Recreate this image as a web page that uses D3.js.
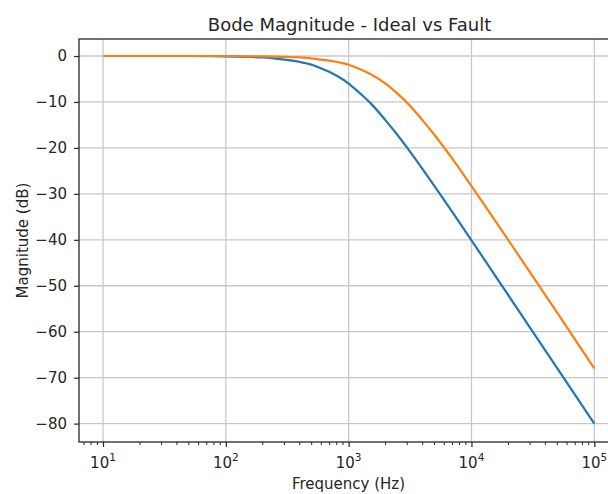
<!DOCTYPE html>
<html>
<head>
<meta charset="utf-8">
<script src="https://cdn.jsdelivr.net/npm/d3@7"></script>
<style>
  html, body { margin: 0; padding: 0; background: #fff; overflow: hidden; }
  text { font-family: "DejaVu Sans", sans-serif; fill: #262626; }
</style>
</head>
<body>
<div id="chart"></div>
<script>
'use strict';

// values
var freqs = [10, 20, 50, 100, 150, 200, 300, 400, 500, 600, 700, 800, 1000, 1200, 1500,
  2000, 2500, 3000, 4000, 5000, 7000, 10000, 20000, 50000, 100000];
var idealDb = [0, 0, 0, -0.1, -0.2, -0.3, -0.8, -1.3, -1.9, -2.7, -3.5, -4.3, -6.0, -7.8, -10.2,
  -14.0, -17.2, -20.0, -24.6, -28.3, -34.0, -40.1, -52.1, -68.0, -80.0];
var faultDb = [0, 0, 0, 0, -0.1, -0.1, -0.2, -0.3, -0.5, -0.8, -1.0, -1.3, -1.9, -2.7, -3.9,
  -6.0, -8.2, -10.2, -14.0, -17.2, -22.4, -28.3, -40.1, -55.9, -68.0];
var yTicks = [0, -10, -20, -30, -40, -50, -60, -70, -80];
var xTicks = [1e1, 1e2, 1e3, 1e4, 1e5];

var width = 608, height = 494;
var plot = { left: 79, right: 618.3, top: 39, bottom: 442 };

var svg = d3.select('#chart').append('svg')
  .attr('width', width)
  .attr('height', height);

var x = d3.scaleLog()
  .domain([Math.pow(10, 0.8045), Math.pow(10, 5.1955)])
  .range([plot.left, plot.right]);

var y = d3.scaleLinear()
  .domain([-84, 3.7])
  .range([plot.bottom, plot.top]);

// grid
svg.append('g').selectAll('line')
  .data(xTicks).enter().append('line')
  .attr('x1', function(d) { return x(d); })
  .attr('x2', function(d) { return x(d); })
  .attr('y1', plot.top).attr('y2', plot.bottom)
  .attr('style', 'stroke: #c8c8c8; stroke-width: 1.3;');

svg.append('g').selectAll('line')
  .data(yTicks).enter().append('line')
  .attr('x1', plot.left).attr('x2', plot.right)
  .attr('y1', function(d) { return y(d); })
  .attr('y2', function(d) { return y(d); })
  .attr('style', 'stroke: #c8c8c8; stroke-width: 1.3;');

// lines
var line = d3.line()
  .x(function(d) { return x(d[0]); })
  .y(function(d) { return y(d[1]); })
  .curve(d3.curveMonotoneX);

svg.append('path')
  .datum(d3.zip(freqs, idealDb))
  .attr('d', line)
  .attr('style', 'stroke: #1f77b4; stroke-width: 2.2; fill: none;');

svg.append('path')
  .datum(d3.zip(freqs, faultDb))
  .attr('d', line)
  .attr('style', 'stroke: #ff7f0e; stroke-width: 2.2; fill: none;');

// axes
var minorTicks = [];
[1, 10, 100, 1000, 10000, 100000].forEach(function(dec) {
  for (var k = 2; k <= 9; k++) {
    var v = dec * k;
    if (v > x.domain()[0] && v < x.domain()[1]) minorTicks.push(v);
  }
});

var xAxis = d3.axisBottom(x)
  .tickValues(xTicks)
  .tickSize(5)
  .tickFormat(function() { return ''; });

var gx = svg.append('g')
  .attr('transform', 'translate(0,' + plot.bottom + ')')
  .call(xAxis);
gx.select('.domain').remove();
gx.selectAll('.tick line').attr('stroke', '#262626').attr('stroke-width', 1.2);

svg.append('g').selectAll('line')
  .data(minorTicks).enter().append('line')
  .attr('x1', function(d) { return x(d); })
  .attr('x2', function(d) { return x(d); })
  .attr('y1', plot.bottom).attr('y2', plot.bottom + 3)
  .attr('stroke', '#262626').attr('stroke-width', 1);

var xLabels = svg.append('g').selectAll('text')
  .data(xTicks).enter().append('text')
  .attr('x', function(d) { return x(d); })
  .attr('y', 468)
  .attr('text-anchor', 'middle')
  .style('font-size', '15px');
xLabels.append('tspan').text('10');
xLabels.append('tspan')
  .attr('dy', -7)
  .style('font-size', '10.5px')
  .text(function(d) { return Math.round(Math.log10(d)); });

var yAxis = d3.axisLeft(y)
  .tickValues(yTicks)
  .tickSize(5)
  .tickPadding(7)
  .tickFormat(function(d) { return d < 0 ? '\u2212' + Math.abs(d) : d; });

var gy = svg.append('g')
  .attr('transform', 'translate(' + plot.left + ',0)')
  .call(yAxis);
gy.select('.domain').remove();
gy.selectAll('.tick line').attr('stroke', '#262626').attr('stroke-width', 1.2);
gy.selectAll('.tick text')
  .style('font-size', '15px')
  .style('font-family', '"DejaVu Sans", sans-serif')
  .attr('fill', '#262626');

// frame
svg.append('rect')
  .attr('x', plot.left).attr('y', plot.top)
  .attr('width', plot.right - plot.left)
  .attr('height', plot.bottom - plot.top)
  .attr('style', 'stroke: #262626; stroke-width: 1.3; fill: none;');

// titles
svg.append('text')
  .attr('x', 349.5)
  .attr('y', 31)
  .attr('text-anchor', 'middle')
  .style('font-size', '18px')
  .text('Bode Magnitude - Ideal vs Fault');

svg.append('text')
  .attr('x', 348.5)
  .attr('y', 489)
  .attr('text-anchor', 'middle')
  .style('font-size', '15px')
  .text('Frequency (Hz)');

svg.append('text')
  .attr('text-anchor', 'middle')
  .attr('transform', 'translate(28,' + (plot.top + plot.bottom) / 2 + ') rotate(-90)')
  .style('font-size', '15px')
  .text('Magnitude (dB)');
</script>
</body>
</html>
